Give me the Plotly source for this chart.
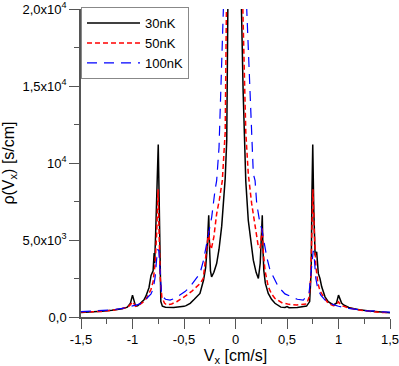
import plotly.graph_objects as go

# 30 nK
x_30 = [-1.5, -1.4, -1.3, -1.2, -1.1, -1.05, -1.02, -1.0, -0.985, -0.97, -0.95, -0.92,
        -0.89, -0.87, -0.84, -0.82, -0.8, -0.79, -0.785, -0.775, -0.76, -0.75, -0.742,
        -0.735, -0.725, -0.71, -0.68, -0.6, -0.52, -0.5, -0.48, -0.44, -0.4, -0.345,
        -0.31, -0.29, -0.275, -0.26, -0.252, -0.243, -0.232, -0.21, -0.183, -0.16,
        -0.134, -0.115, -0.1, -0.085, -0.074, -0.058, -0.045, 0.0,
        0.045, 0.058, 0.074, 0.085, 0.1, 0.124, 0.15, 0.173, 0.2, 0.222, 0.24, 0.26,
        0.266, 0.275, 0.29, 0.318, 0.35, 0.383, 0.44, 0.48, 0.5, 0.52, 0.6, 0.69,
        0.72, 0.735, 0.742, 0.75, 0.76, 0.773, 0.788, 0.797, 0.804, 0.82, 0.837,
        0.869, 0.9, 0.95, 0.98, 1.0, 1.015, 1.03, 1.05, 1.1, 1.14, 1.2, 1.3, 1.37,
        1.45, 1.5]
y_30 = [300, 330, 380, 440, 540, 640, 900, 1420, 1100, 700, 720, 900,
        1100, 1350, 1900, 2700, 3000, 4150, 3500, 5500, 9500, 11200, 8000,
        3000, 1000, 700, 640, 620, 650, 690, 740, 890, 1150, 1530,
        2400, 3200, 4500, 6600, 4500, 3000, 2600, 2900, 3470, 4400,
        5900, 7500, 9000, 11500, 14700, 20000, 28000, 80000,
        28000, 20000, 14700, 11500, 8800, 6280, 4700, 3690, 2900, 2500, 3500, 6600,
        4500, 3000, 2180, 1530, 1150, 890, 640, 620, 680, 600, 620, 710,
        1000, 3000, 8000, 11200, 7000, 4000, 4230, 3200, 2830, 2500, 1960,
        1310, 1000, 780, 900, 1420, 1200, 900, 780, 620, 560, 470, 390, 340,
        300, 280]

# 50 nK
x_50 = [-1.5, -1.4, -1.3, -1.2, -1.1, -1.05, -1.02, -1.0, -0.985, -0.97, -0.93, -0.9,
        -0.86, -0.82, -0.8, -0.78, -0.765, -0.752, -0.74, -0.73, -0.715, -0.69,
        -0.668, -0.62, -0.571, -0.52, -0.474, -0.42, -0.377, -0.34, -0.313, -0.296,
        -0.28, -0.26, -0.25, -0.235, -0.21, -0.183, -0.157, -0.128, -0.1, -0.09,
        -0.075, -0.065, -0.05, 0.0,
        0.05, 0.068, 0.09, 0.1, 0.124, 0.157, 0.19, 0.222, 0.24, 0.26, 0.27, 0.286,
        0.318, 0.35, 0.383, 0.45, 0.52, 0.594, 0.69, 0.715, 0.73, 0.74, 0.752,
        0.765, 0.78, 0.8, 0.82, 0.86, 0.9, 0.95, 0.98, 1.0, 1.015, 1.04, 1.1, 1.2,
        1.3, 1.4, 1.5]
y_50 = [320, 320, 360, 430, 530, 620, 800, 990, 850, 700, 800, 950,
        1250, 1800, 2300, 3500, 5500, 8300, 5000, 2500, 1300, 900,
        780, 850, 990, 1200, 1420, 1700, 1960, 2200, 2500, 3470,
        4120, 5600, 4700, 4400, 5200, 6700, 7600, 8860, 12000, 14700,
        18000, 20000, 26000, 80000,
        26000, 20000, 14700, 12000, 9300, 7360, 5840, 4550, 4500, 5740, 4200, 3040,
        1960, 1500, 1210, 930, 820, 780, 850, 1300, 2500, 5000, 8300,
        5500, 3300, 2200, 1700, 1250, 900, 730, 800, 990, 850, 720, 580, 450,
        360, 300, 300]

# 100 nK
x_100 = [-1.5, -1.4, -1.33, -1.25, -1.2, -1.1, -1.0, -0.95, -0.9, -0.86, -0.82, -0.798,
         -0.78, -0.765, -0.755, -0.745, -0.735, -0.725, -0.717, -0.68, -0.636, -0.59,
         -0.539, -0.49, -0.442, -0.39, -0.345, -0.31, -0.28, -0.26, -0.231, -0.199,
         -0.183, -0.16, -0.136, -0.12, -0.104, -0.08, 0.0,
         0.08, 0.109, 0.124, 0.14, 0.173, 0.19, 0.206, 0.238, 0.254, 0.286, 0.303,
         0.335, 0.351, 0.416, 0.48, 0.546, 0.6, 0.658, 0.714, 0.735, 0.745, 0.755,
         0.765, 0.78, 0.8, 0.83, 0.87, 0.9, 0.95, 1.0, 1.1, 1.2, 1.3, 1.35, 1.4, 1.5]
y_100 = [350, 380, 420, 420, 460, 560, 700, 800, 950, 1210, 1500, 1860,
         2600, 3800, 4400, 4300, 3000, 1800, 1400, 1150, 1100, 1200,
         1420, 1650, 1960, 2400, 2830, 3700, 4770, 5630, 6490, 8220,
         8860, 11000, 14690, 17500, 20000, 28000, 80000,
         28000, 20000, 17500, 14690, 9300, 8860, 7360, 6060, 5740, 4550, 3900,
         3040, 2830, 1960, 1500, 1310, 1150, 1100, 1530, 3000, 4000, 4300,
         3800, 2500, 1800, 1400, 1100, 950, 800, 700, 560, 460, 380, 400, 330, 320]

x_ticks = [-1.5, -1.0, -0.5, 0.0, 0.5, 1.0, 1.5]
x_labels = ["-1,5", "-1", "-0,5", "0", "0,5", "1", "1,5"]
y_ticks = [0, 5000, 10000, 15000, 20000]
y_labels = ["0,0", "5,0x10<sup>3</sup>", "10<sup>4</sup>", "1,5x10<sup>4</sup>",
            "2,0x10<sup>4</sup>"]

fig = go.Figure()
fig.add_trace(go.Scatter(x=x_30, y=y_30, name="30nK", mode="lines",
                         line=dict(color="black", width=1.5)))
fig.add_trace(go.Scatter(x=x_50, y=y_50, name="50nK", mode="lines",
                         line=dict(color="#ff0000", width=1.5, dash="5px,3px")))
fig.add_trace(go.Scatter(x=x_100, y=y_100, name="100nK", mode="lines",
                         line=dict(color="#0000ff", width=1.2, dash="10px,7px")))

axis_color = "#555555"
font = dict(family="Liberation Sans, Arial, sans-serif", size=13, color="black")

fig.update_layout(
    width=399, height=366,
    margin=dict(l=81, r=9, t=8, b=49),
    plot_bgcolor="white", paper_bgcolor="white",
    font=font,
    showlegend=True,
    legend=dict(x=0, y=1.003, xanchor="left", yanchor="top",
                bordercolor="#888888", borderwidth=1, bgcolor="white",
                font=dict(size=13), tracegroupgap=0, itemwidth=53),
)
fig.update_xaxes(
    range=[-1.5, 1.5], showgrid=False, zeroline=False, automargin=False,
    showline=True, linecolor=axis_color, linewidth=1.5,
    tickmode="array", tickvals=x_ticks, ticktext=x_labels,
    ticklabeloverflow="allow",
    ticks="outside", ticklen=10, tickwidth=1.2, tickcolor=axis_color,
    minor=dict(ticks="outside", ticklen=5, tickwidth=1.2, tickcolor=axis_color,
               tick0=-1.5, dtick=0.25),
    title=dict(text="V<sub>x</sub> [cm/s]", standoff=6),
)
fig.update_yaxes(
    range=[0, 20000], showgrid=False, zeroline=False, automargin=False,
    showline=True, linecolor=axis_color, linewidth=1.5,
    tickmode="array", tickvals=y_ticks, ticktext=y_labels,
    ticklabeloverflow="allow",
    ticks="outside", ticklen=10, tickwidth=1.2, tickcolor=axis_color,
    minor=dict(ticks="outside", ticklen=5, tickwidth=1.2, tickcolor=axis_color,
               tick0=0, dtick=2500),
    title=dict(text="ρ(V<sub>x</sub>) [s/cm]", standoff=6),
)

# the page body has an 8px default margin; drop it so the figure fills the window
fig.write_html("out.html", config={"displayModeBar": False},
               post_script="document.body.style.margin='0';")
